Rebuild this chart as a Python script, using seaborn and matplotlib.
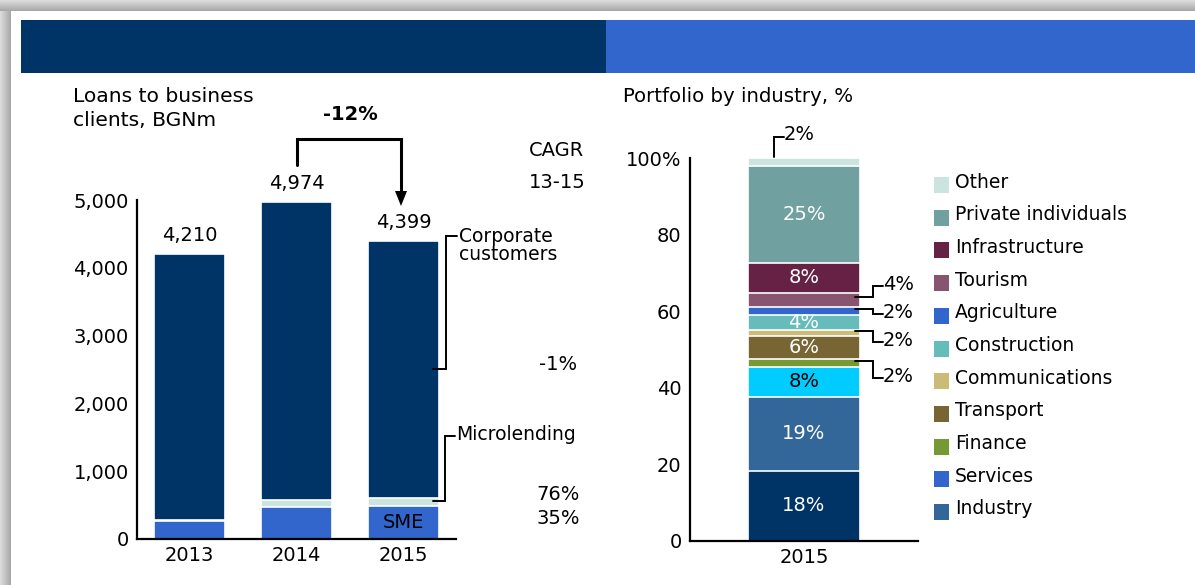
import numpy as np
import matplotlib.pyplot as plt
import matplotlib.patches as mpatches
import seaborn as sns

W, H = 1195, 585

# left chart: loans to business clients, BGNm
years = ["2013", "2014", "2015"]
sme = [265, 475, 490]
micro = [15, 95, 110]
corporate = [3930, 4404, 3799]
totals = [4210, 4974, 4399]
cagr_labels = ["-1%", "76%", "35%"]

# right chart: portfolio by industry 2015, bottom to top
shares = [18.4, 19.3, 7.7, 2.1, 6.0, 1.7, 3.9, 2.1, 3.6, 7.9, 25.3, 2.0]
share_labels = ["18%", "19%", "8%", "2%", "6%", "2%", "4%", "2%", "4%", "8%", "25%", "2%"]
seg_colors = ["#003366", "#336699", "#00ccff", "#779933", "#776633", "#ccbb77",
              "#66bbbb", "#3366cc", "#885570", "#662244", "#70a0a0", "#cce4e0"]
label_colors = ["white", "white", "black", None, "white", None,
                "white", None, None, "white", "white", None]

legend_names = ["Other", "Private individuals", "Infrastructure", "Tourism",
                "Agriculture", "Construction", "Communications", "Transport",
                "Finance", "Services", "Industry"]
legend_colors = ["#cce4e0", "#70a0a0", "#662244", "#885570", "#3366cc", "#66bbbb",
                 "#ccbb77", "#776633", "#779933", "#3366cc", "#336699"]

NAVY = "#003366"
BLUE = "#3366cc"
LIGHT = "#cce4e0"
FS = 14

sns.set_style("white")
plt.rcParams["font.family"] = ["DejaVu Sans"]
plt.rcParams["text.color"] = "black"
plt.rcParams["xtick.color"] = "black"
plt.rcParams["ytick.color"] = "black"
plt.rcParams["xtick.labelcolor"] = "black"
plt.rcParams["ytick.labelcolor"] = "black"

fig = plt.figure(figsize=(W / 100, H / 100), dpi=100)

# background: slide shadow, panel and header bar
bg = fig.add_axes([0, 0, 1, 1], zorder=-1)
bg.set_xlim(0, W)
bg.set_ylim(H, 0)
bg.axis("off")
for i in range(11):
    g = 0.86 - 0.02 * i
    bg.add_patch(mpatches.Rectangle((0, i), W, 1, color=(g, g, g), lw=0))
    bg.add_patch(mpatches.Rectangle((i, i), 1, H, color=(g, g, g), lw=0))
bg.add_patch(mpatches.Rectangle((11, 11), W, H, color="white", lw=0))
bg.add_patch(mpatches.Rectangle((21, 20), 585, 53, color=NAVY, lw=0))
bg.add_patch(mpatches.Rectangle((606, 20), W - 606, 53, color=BLUE, lw=0))


def style_axes(ax):
    ax.set_facecolor("none")
    sns.despine(ax=ax)
    for s in ["left", "bottom"]:
        ax.spines[s].set_color("black")
        ax.spines[s].set_linewidth(1.6)
    ax.tick_params(axis="y", length=4, width=1.4, color="black", labelcolor="black",
                   pad=2, labelsize=FS)
    ax.tick_params(axis="x", length=0, pad=5, labelsize=FS, labelcolor="black")
    ax.set_xlabel("")
    ax.set_ylabel("")


# ---- left chart
ax1 = fig.add_axes([137 / W, 1 - 539 / H, 319 / W, 339 / H])
stack_top = [c + m + s for c, m, s in zip(corporate, micro, sme)]
stack_mid = [m + s for m, s in zip(micro, sme)]
for vals, col in [(stack_top, NAVY), (stack_mid, LIGHT), (sme, BLUE)]:
    sns.barplot(x=years, y=vals, color=col, saturation=1, width=0.665,
                edgecolor="white", linewidth=1.2, ax=ax1)
ax1.set_xlim(-0.49, 2.49)
ax1.set_ylim(0, 5000)
ax1.set_yticks(range(0, 5001, 1000))
ax1.set_yticklabels([f"{v:,}" for v in range(0, 5001, 1000)])
style_axes(ax1)
for i, t in enumerate(totals):
    ax1.annotate(f"{t:,}", (i, t), xytext=(0, 6), textcoords="offset points",
                 ha="center", va="bottom", fontsize=FS, annotation_clip=False)
ax1.text(2, sme[2] / 2, "SME", ha="center", va="center", fontsize=FS, color="black")

# ---- right chart
ax2 = fig.add_axes([690 / W, 1 - 541 / H, 228 / W, 383 / H])
cum = np.cumsum(shares)
for i in range(len(shares) - 1, -1, -1):
    sns.barplot(x=["2015"], y=[cum[i]], color=seg_colors[i], saturation=1, width=0.49,
                edgecolor="white", linewidth=1.2, ax=ax2)
ax2.set_xlim(-0.5, 0.5)
ax2.set_ylim(0, 100)
ax2.set_yticks(range(0, 101, 20))
ax2.set_yticklabels(["0", "20", "40", "60", "80", "100%"])
style_axes(ax2)
for i, (v, lab, lc) in enumerate(zip(shares, share_labels, label_colors)):
    if lc is not None:
        ax2.text(0, cum[i] - v / 2, lab, ha="center", va="center", fontsize=FS, color=lc)

# ---- overlay: titles, callouts, arrows, legend
ov = fig.add_axes([0, 0, 1, 1], zorder=5)
ov.set_xlim(0, W)
ov.set_ylim(H, 0)
ov.axis("off")


def line(pts, lw=1.4):
    xs, ys = zip(*pts)
    ov.plot(xs, ys, color="black", lw=lw, solid_joinstyle="miter")


ov.text(73, 96, "Loans to business", fontsize=FS + 0.6, va="center", ha="left")
ov.text(73, 121, "clients, BGNm", fontsize=FS + 0.6, va="center", ha="left")
ov.text(623, 97, "Portfolio by industry, %", fontsize=FS + 0.2, va="center", ha="left")

# change 2014 -> 2015
line([(297, 165), (297, 139), (401, 139), (401, 192)], lw=2.2)
ov.add_patch(mpatches.Polygon([(395, 191), (407, 191), (401, 206)], closed=True,
                              color="black", lw=0))
ov.text(350, 115, "-12%", fontsize=FS, fontweight="bold", ha="center", va="center")

# CAGR column
ov.text(557, 150, "CAGR", fontsize=FS, ha="center", va="center")
ov.text(557, 183, "13-15", fontsize=FS, ha="center", va="center")
for y, lab in zip([365, 494, 518], cagr_labels):
    ov.text(558, y, lab, fontsize=FS, ha="center", va="center")

# series callouts
line([(433, 369), (446, 369), (446, 236), (457, 236)])
ov.text(459, 237, "Corporate", fontsize=FS - 0.5, ha="left", va="center")
ov.text(459, 255, "customers", fontsize=FS - 0.5, ha="left", va="center")
line([(433, 501), (445, 501), (445, 436), (455, 436)])
ov.text(456, 435, "Microlending", fontsize=FS - 0.5, ha="left", va="center")

# small segment callouts on the right bar
line([(774, 157), (774, 137), (784, 137)])
ov.text(784, 135, share_labels[11], fontsize=FS, ha="left", va="center")
for (y0, y1), idx in zip([(297, 286), (309, 314), (331, 342), (361, 378)], [8, 7, 5, 3]):
    line([(855, y0), (873, y0), (873, y1), (883, y1)])
    ov.text(883, y1 - 2, share_labels[idx], fontsize=FS, ha="left", va="center")

# legend
for k, (name, col) in enumerate(zip(legend_names, legend_colors)):
    yc = 185 + k * 32.7
    ov.add_patch(mpatches.Rectangle((934, yc - 8), 15, 16, color=col, lw=0))
    ov.text(955, yc - 3, name, fontsize=FS - 0.5, ha="left", va="center")

fig.savefig("out.png", dpi=100)
